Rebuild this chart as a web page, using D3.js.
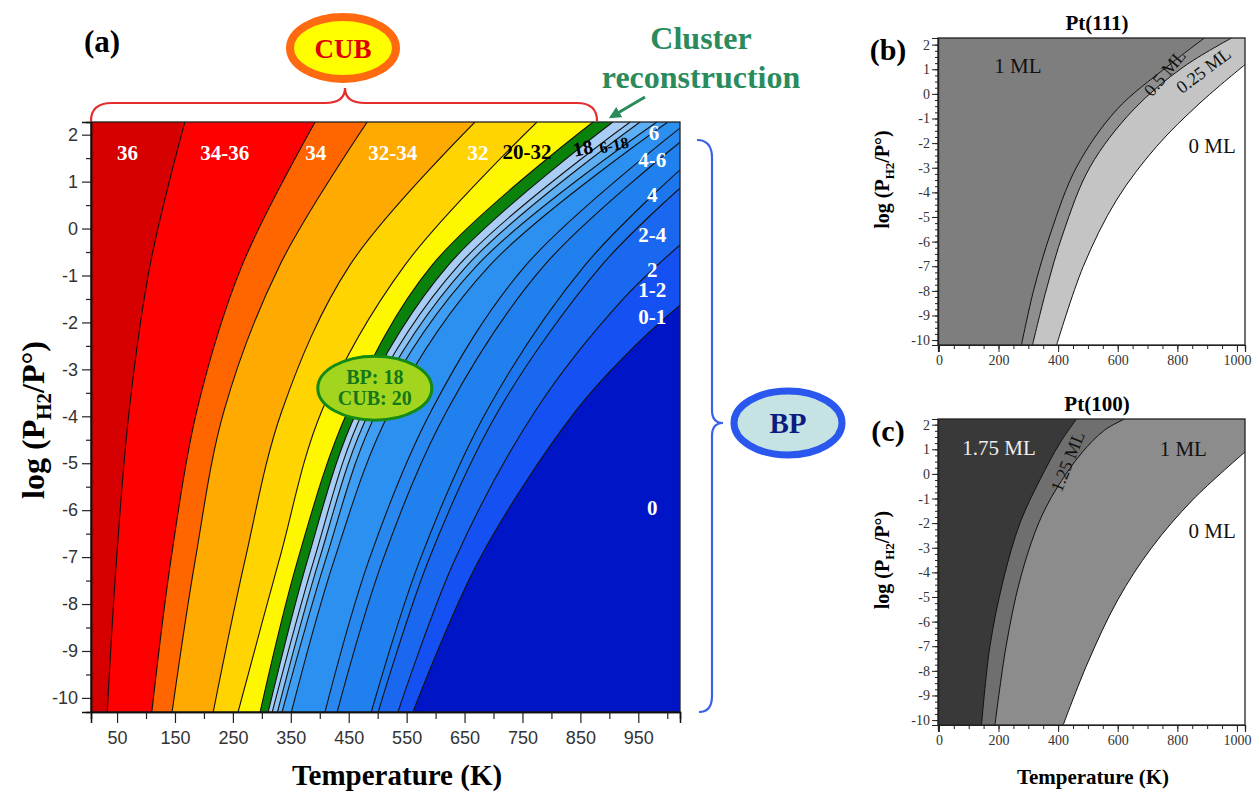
<!DOCTYPE html>
<html><head><meta charset="utf-8">
<script src="https://cdn.jsdelivr.net/npm/d3@7"></script>
<style>body{margin:0;background:#fff} svg{display:block}</style>
</head><body><svg id="c" width="1258" height="796"></svg>
<script>
// ---------------- DATA ----------------
// Panel (a): temperature (K) vs log(P_H2/P°)
const aTempDomain = [5, 1022];
const aLogDomain = [-10.3, 2.27];
const aXMajor = [50, 150, 250, 350, 450, 550, 650, 750, 850, 950];
const aXMinor = [100, 200, 300, 400, 500, 600, 700, 800, 900, 1000];
const aYMajor = [2, 1, 0, -1, -2, -3, -4, -5, -6, -7, -8, -9, -10];
const aYMinor = [1.5, 0.5, -0.5, -1.5, -2.5, -3.5, -4.5, -5.5, -6.5, -7.5, -8.5, -9.5];
// phase boundaries: [T, logP] from bottom edge to top (or right) edge
const aBoundaries = [
  [[33,-10.3],[49,-7.06],[71,-3.87],[107,-0.78],[167,2.27]],
  [[110,-10.3],[143,-7.06],[188,-3.87],[266,-0.78],[392,2.27]],
  [[145,-10.3],[185,-7.06],[235,-3.87],[331,-0.78],[482,2.27]],
  [[216,-10.3],[271,-7.06],[335,-3.87],[452,-0.78],[668,2.27]],
  [[259,-10.3],[330,-7.06],[404,-3.87],[547,-0.78],[775,2.27]],
  [[297,-10.3],[362,-7.06],[449,-3.87],[594,-0.78],[872,2.27]],
  [[311,-10.3],[379,-7.06],[465,-3.87],[622,-0.78],[906,2.27]],
  [[318,-10.3],[390,-7.06],[476,-3.87],[640,-0.78],[936,2.27]],
  [[327,-10.3],[399,-7.06],[487,-3.87],[655,-0.78],[953,2.27]],
  [[335,-10.3],[410,-7.06],[500,-3.87],[672,-0.78],[982,2.27]],
  [[351,-10.3],[425,-7.06],[522,-3.87],[694,-0.78],[1001,2.27]],
  [[409,-10.3],[485,-7.06],[593,-3.87],[756,-0.78],[1022,2.14]],
  [[430,-10.3],[509,-7.06],[620,-3.87],[788,-0.78],[1022,1.84]],
  [[489,-10.3],[573,-7.06],[689,-3.87],[858,-0.78],[1022,1.25]],
  [[501,-10.3],[588,-7.06],[709,-3.87],[887,-0.78],[1022,0.86]],
  [[535,-10.3],[633,-7.06],[773,-3.87],[924,-1.5],[1022,-0.35]],
  [[561,-10.3],[675,-7.06],[843,-3.87],[944,-2.5],[1022,-1.63]]
];
const aColors = ["#d60000","#ff0000","#ff6600","#ffaa00","#ffd400","#fff700","#0a820a",
  "#a9cdf4","#8ec3f4","#5eaef4","#3d9ef3","#2b90f0","#2888ef","#2080ee","#1c76ee","#1a68ef","#1450f2","#0016c6"];
const aLabels = [
  ["36",68,1.61,"#fff",21,0],["34-36",236,1.61,"#fff",21,0],["34",393,1.61,"#fff",21,0],
  ["32-34",526,1.61,"#fff",21,0],["32",673,1.61,"#fff",21,0],["20-32",758,1.63,"#000",21,0],
  ["18",854,1.72,"#000",20,-12],["6-18",908,1.78,"#000",16,-12],
  ["6",977,2.04,"#fff",21,0],["4-6",974,1.46,"#fff",21,0],["4",974,0.71,"#fff",21,0],
  ["2-4",974,-0.14,"#fff",21,0],["2",974,-0.88,"#fff",21,0],["1-2",974,-1.31,"#fff",21,0],
  ["0-1",974,-1.88,"#fff",21,0],["0",974,-5.95,"#fff",21,0]
];

// Panels (b) Pt(111) and (c) Pt(100)
const bcTempDomain = [-3, 1027];
const bcXMajor = [0, 200, 400, 600, 800, 1000];
const bcXMinor = d3.range(0, 1001, 50);
const bcYMajor = [2, 1, 0, -1, -2, -3, -4, -5, -6, -7, -8, -9, -10];
const bcYMinor = d3.range(-10, 2.01, 0.25);
const bLogDomain = [-10.2, 2.27];
const cLogDomain = [-10.2, 2.23];
const bBoundaries = [
  [[277,-10.2],[318,-7.97],[375,-5.65],[462,-2.97],[596,-0.65],[764,1.09],[891,2.27]],
  [[314,-10.2],[360,-7.97],[417,-5.65],[507,-2.97],[652,-0.65],[820,1.09],[982,2.27]],
  [[395,-10.2],[484,-7.02],[596,-4.31],[730,-2.14],[876,-0.37],[1027,1.19]]
];
const bColors = ["#7e7e7e","#8f8f8f","#c4c4c4","#ffffff"];
const bLabels = [["1 ML",265,1.15,"#111",21,0],["0.5 ML",758,0.85,"#111",18,-50],
  ["0.25 ML",888,0.95,"#111",18,-37],["0 ML",917,-2.1,"#111",21,0]];
const cBoundaries = [
  [[143,-10.2],[171,-7.02],[216,-4.31],[272,-2.0],[339,-0.24],[406,1.25],[462,2.23]],
  [[188,-10.2],[225,-7.03],[272,-4.31],[335,-1.99],[392,-0.65],[479,0.85],[556,1.78],[623,2.23]],
  [[417,-10.2],[499,-7.68],[600,-5.12],[713,-3.01],[851,-1.06],[1027,0.89]]
];
const cColors = ["#393939","#6f6f6f","#8c8c8c","#ffffff"];
const cLabels = [["1.75 ML",202,1.07,"#eee",21,0],["1.25 ML",432,0.5,"#111",18,-68],
  ["1 ML",820,1.0,"#111",21,0],["0 ML",917,-2.3,"#111",21,0]];

// ---------------- DRAW ----------------
const svg = d3.select("#c");
const SERIF = "'Liberation Serif','Times New Roman',serif";
const NARROW = "'Liberation Sans Narrow','Arial Narrow','Liberation Sans',Arial,sans-serif";
let clipId = 0;

function drawMap(g, xs, ys, bounds, colors, lineW) {
  const [x0, x1] = xs.range(), [y0, y1] = ys.range();
  const id = "clip" + (clipId++);
  svg.append("defs").append("clipPath").attr("id", id)
    .append("rect").attr("x", x0).attr("y", y1).attr("width", x1 - x0).attr("height", y0 - y1);
  const gc = g.append("g").attr("clip-path", `url(#${id})`);
  gc.append("rect").attr("x", x0).attr("y", y1).attr("width", x1 - x0).attr("height", y0 - y1).attr("fill", colors[0]);
  const line = d3.line().x(d => xs(d[0])).y(d => ys(d[1])).curve(d3.curveCatmullRom.alpha(0.5));
  bounds.forEach((b, i) => {
    const last = b[b.length - 1], first = b[0];
    const p = line(b) + `L${x1 + 5},${ys(last[1])}L${x1 + 5},${y0 + 5}L${xs(first[0])},${y0 + 5}Z`;
    gc.append("path").attr("d", p).attr("fill", colors[i + 1]);
  });
  bounds.forEach(b => {
    gc.append("path").attr("d", line(b)).attr("fill", "none").attr("stroke", "#111").attr("stroke-width", lineW);
  });
  g.append("rect").attr("x", x0).attr("y", y1).attr("width", x1 - x0).attr("height", y0 - y1)
    .attr("fill", "none").attr("stroke", "#222").attr("stroke-width", 1.3);
}

function drawLabels(g, xs, ys, labels, bold) {
  labels.forEach(([t, x, y, col, fs, rot]) => {
    g.append("text").attr("transform", `translate(${xs(x)},${ys(y)}) rotate(${rot})`)
      .attr("text-anchor", "middle").attr("dominant-baseline", "central")
      .attr("font-family", SERIF).attr("font-weight", bold ? "bold" : "normal")
      .attr("font-size", fs).attr("fill", col).text(t);
  });
}

// ---- Panel (a)
const aX = d3.scaleLinear().domain(aTempDomain).range([91, 680]);
const aY = d3.scaleLinear().domain(aLogDomain).range([712, 122]);
const ga = svg.append("g");
drawMap(ga, aX, aY, aBoundaries, aColors, 1.1);
drawLabels(ga, aX, aY, aLabels, true);

const axA = ga.append("g").attr("transform", "translate(0,712)");
axA.call(d3.axisBottom(aX).tickValues(aXMajor).tickSize(11).tickPadding(8).tickFormat(d => String(d)));
axA.append("g").call(d3.axisBottom(aX).tickValues(aXMinor).tickSize(7).tickFormat(""));
const ayA = ga.append("g").attr("transform", "translate(91,0)");
ayA.call(d3.axisLeft(aY).tickValues(aYMajor).tickSize(9).tickPadding(4).tickFormat(d => String(d)));
ayA.append("g").call(d3.axisLeft(aY).tickValues(aYMinor).tickSize(5).tickFormat(""));
[axA, ayA].forEach(a => {
  a.selectAll(".domain").attr("stroke", "#111").attr("stroke-width", 1.5);
  a.selectAll("line").attr("stroke", "#222").attr("stroke-width", 1.2);
  a.selectAll("text").attr("font-family", NARROW).attr("font-size", 18).attr("fill", "#333");
});

ga.append("text").attr("x", 397).attr("y", 785).attr("text-anchor", "middle")
  .attr("font-family", SERIF).attr("font-weight", "bold").attr("font-size", 29).text("Temperature (K)");
const ylA = ga.append("text").attr("transform", "translate(44,420) rotate(-90)").attr("text-anchor", "middle")
  .attr("font-family", SERIF).attr("font-weight", "bold").attr("font-size", 32);
ylA.append("tspan").text("log (P");
ylA.append("tspan").attr("font-size", 21).attr("dy", 7).text("H2");
ylA.append("tspan").attr("dy", -7).text("/P°)");
ga.append("text").attr("x", 102).attr("y", 52).attr("text-anchor", "middle")
  .attr("font-family", SERIF).attr("font-weight", "bold").attr("font-size", 31).text("(a)");

// red brace (CUB)
const braceTop = 103;
svg.append("path").attr("d",
  `M91,121 Q91,${braceTop} 112,${braceTop} L325,${braceTop} Q345,${braceTop} 345,88 Q345,${braceTop} 365,${braceTop} L577,${braceTop} Q597,${braceTop} 597,121`)
  .attr("fill", "none").attr("stroke", "#e52d2d").attr("stroke-width", 2.2);
svg.append("ellipse").attr("cx", 343).attr("cy", 48).attr("rx", 53).attr("ry", 31)
  .attr("fill", "#ffff00").attr("stroke", "#ff6a10").attr("stroke-width", 8);
svg.append("text").attr("x", 343).attr("y", 58).attr("text-anchor", "middle")
  .attr("font-family", SERIF).attr("font-weight", "bold").attr("font-size", 27).attr("fill", "#e00000").text("CUB");

// Cluster reconstruction
const cr = svg.append("text").attr("text-anchor", "middle").attr("font-family", SERIF)
  .attr("font-weight", "bold").attr("font-size", 32).attr("fill", "#2a8b5c");
cr.append("tspan").attr("x", 701).attr("y", 49).text("Cluster");
cr.append("tspan").attr("x", 701).attr("y", 88).text("reconstruction");
svg.append("defs").append("marker").attr("id", "arr").attr("viewBox", "0 0 10 10").attr("refX", 8).attr("refY", 5)
  .attr("markerWidth", 4).attr("markerHeight", 4).attr("orient", "auto")
  .append("path").attr("d", "M0,0L10,5L0,10Z").attr("fill", "#2a8b5c");
svg.append("line").attr("x1", 645).attr("y1", 97).attr("x2", 611).attr("y2", 117)
  .attr("stroke", "#2a8b5c").attr("stroke-width", 3).attr("marker-end", "url(#arr)");

// BP:18 / CUB:20 ellipse
const eT = 495, eL = -3.4;
svg.append("ellipse").attr("cx", aX(eT)).attr("cy", aY(eL)).attr("rx", 57).attr("ry", 32)
  .attr("fill", "#a3d51f").attr("stroke", "#138a13").attr("stroke-width", 3);
const bpc = svg.append("text").attr("text-anchor", "middle").attr("font-family", SERIF)
  .attr("font-weight", "bold").attr("font-size", 20).attr("fill", "#13781a");
bpc.append("tspan").attr("x", aX(eT)).attr("y", aY(eL) - 4).text("BP: 18");
bpc.append("tspan").attr("x", aX(eT)).attr("y", aY(eL) + 17).text("CUB: 20");

// blue brace (BP)
svg.append("path").attr("d",
  "M697,140 Q712,140 712,158 L712,410 Q712,423 723,423 Q712,423 712,436 L712,696 Q712,712 699,712")
  .attr("fill", "none").attr("stroke", "#3a62e6").attr("stroke-width", 2.2);
svg.append("ellipse").attr("cx", 788).attr("cy", 423).attr("rx", 54).attr("ry", 32)
  .attr("fill", "#c6e3e3").attr("stroke", "#2a58ee").attr("stroke-width", 7);
svg.append("text").attr("x", 788).attr("y", 433).attr("text-anchor", "middle")
  .attr("font-family", SERIF).attr("font-weight", "bold").attr("font-size", 29).attr("fill", "#0c1c80").text("BP");

// ---- Panels (b), (c)
function smallPanel(top, bottom, logDomain, bounds, colors, labels, title, tag, showXLabel) {
  const xs = d3.scaleLinear().domain(bcTempDomain).range([938, 1245]);
  const ys = d3.scaleLinear().domain(logDomain).range([bottom, top]);
  const g = svg.append("g");
  drawMap(g, xs, ys, bounds, colors, 1);
  drawLabels(g, xs, ys, labels, false);
  const ax = g.append("g").attr("transform", `translate(0,${bottom})`);
  ax.call(d3.axisBottom(xs).tickValues(bcXMajor).tickSize(7).tickPadding(3).tickFormat(d => String(d)));
  ax.append("g").call(d3.axisBottom(xs).tickValues(bcXMinor).tickSize(4).tickFormat(""));
  const ay = g.append("g").attr("transform", "translate(938,0)");
  ay.call(d3.axisLeft(ys).tickValues(bcYMajor).tickSize(6).tickPadding(2).tickFormat(d => String(d)));
  ay.append("g").call(d3.axisLeft(ys).tickValues(bcYMinor).tickSize(3).tickFormat(""));
  [ax, ay].forEach(a => {
    a.selectAll(".domain").attr("stroke", "#222").attr("stroke-width", 1.2);
    a.selectAll("line").attr("stroke", "#222").attr("stroke-width", 1);
    a.selectAll("text").attr("font-family", SERIF).attr("font-size", 14).attr("fill", "#333");
  });
  g.append("text").attr("x", 1097).attr("y", top - 8).attr("text-anchor", "middle")
    .attr("font-family", SERIF).attr("font-weight", "bold").attr("font-size", 21).text(title);
  g.append("text").attr("x", 888).attr("y", top + 22).attr("text-anchor", "middle")
    .attr("font-family", SERIF).attr("font-weight", "bold").attr("font-size", 30).text(tag);
  const yl = g.append("text").attr("transform", `translate(889,${(top + bottom) / 2 - 12}) rotate(-90)`)
    .attr("text-anchor", "middle").attr("font-family", SERIF).attr("font-weight", "bold").attr("font-size", 20);
  yl.append("tspan").text("log (P");
  yl.append("tspan").attr("font-size", 13).attr("dy", 5).text("H2");
  yl.append("tspan").attr("dy", -5).text("/P°)");
  if (showXLabel) {
    g.append("text").attr("x", 1093).attr("y", bottom + 59).attr("text-anchor", "middle")
      .attr("font-family", SERIF).attr("font-weight", "bold").attr("font-size", 21).text("Temperature (K)");
  }
}
smallPanel(38, 345, bLogDomain, bBoundaries, bColors, bLabels, "Pt(111)", "(b)", false);
smallPanel(419, 725, cLogDomain, cBoundaries, cColors, cLabels, "Pt(100)", "(c)", true);
</script></body></html>
